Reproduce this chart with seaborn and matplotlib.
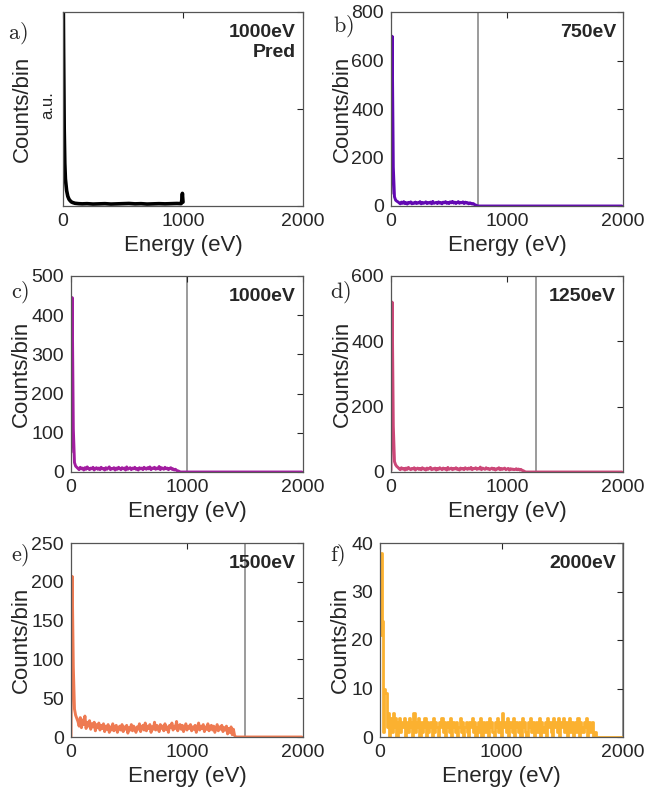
import numpy as np
import matplotlib
matplotlib.use("Agg")
import matplotlib.pyplot as plt
import seaborn as sns

sns.set_style("white")
plt.rcParams['font.family'] = ['Liberation Sans', 'DejaVu Sans']
plt.rcParams['mathtext.fontset'] = 'cm'

# energy bins (10 eV) for the measured spectra
bin_centres = np.arange(0, 2000, 10)

# panel a: predicted spectrum (arbitrary units)
pred_energy = [0, 5, 10, 15, 20, 30, 40, 50, 60, 70, 80, 100, 130, 160, 200, 250, 300,
               350, 400, 450, 500, 550, 600, 650, 700, 750, 800, 850, 900, 950, 985,
               990, 995, 1000]
pred_counts = [1.3, 0.8, 0.4, 0.22, 0.14, 0.08, 0.05, 0.035, 0.027, 0.021, 0.018, 0.014,
               0.012, 0.011, 0.012, 0.010, 0.011, 0.012, 0.010, 0.011, 0.012, 0.013, 0.011,
               0.012, 0.010, 0.011, 0.012, 0.011, 0.012, 0.013, 0.012, 0.03, 0.065, 0.02]

counts_750 = [50, 700, 160, 38, 24, 20, 17,
              13, 9, 16, 11, 18, 10, 14, 8, 15, 12, 17, 9, 13, 11, 16, 10, 14, 12, 18, 9,
              15, 11, 13, 17, 10, 14, 12, 16, 9, 19, 11, 13, 15, 10, 17, 12, 14, 9, 16, 13,
              18, 11, 15, 10, 17, 13, 19, 12, 16, 10, 14, 18, 11, 15, 13, 17, 10, 16, 12, 14,
              9, 13, 11, 8, 10, 6, 4, 2]

counts_1000 = [50, 445, 110, 24, 15, 12,
               9, 6, 12, 8, 10, 5, 11, 7, 13, 9, 6, 10, 8, 12, 5, 9, 11, 7, 10, 6,
               12, 8, 9, 5, 11, 7, 10, 13, 6, 9, 8, 11, 5, 10, 7, 12, 9, 6, 11, 8,
               10, 5, 13, 7, 9, 11, 6, 10, 8, 12, 7, 9, 5, 11, 8, 10, 6, 12, 9, 7,
               11, 8, 13, 6, 10, 9, 12, 7, 10, 8, 14, 6, 11, 9, 7, 12, 8, 10, 6, 9,
               11, 7, 8, 5, 7, 4, 3, 2]

counts_1250 = [5, 520, 140, 32, 22, 17, 14,
               10, 7, 13, 9, 11, 6, 12, 8, 14, 10, 7, 11, 9, 13, 6, 10, 12, 8, 11, 7,
               13, 9, 10, 6, 12, 8, 11, 14, 7, 10, 9, 12, 6, 11, 8, 13, 10, 7, 12, 9,
               11, 6, 14, 8, 10, 12, 7, 11, 9, 13, 8, 10, 6, 12, 9, 11, 7, 13, 10, 8,
               12, 9, 14, 7, 11, 10, 13, 8, 11, 9, 15, 7, 12, 10, 8, 13, 9, 11, 7, 10,
               12, 8, 11, 6, 10, 9, 13, 7, 11, 8, 10, 12, 7, 9, 11, 6, 10, 8, 9, 7,
               8, 10, 7, 9, 6, 8, 5, 4, 2]

counts_1500 = [0, 207, 90, 36, 28, 24,
               20, 14, 25, 12, 22, 16, 27, 11, 19, 14,
               21, 10, 17, 13, 19, 8, 16, 12, 18, 9, 15, 11, 17, 7, 14, 10, 16, 6, 13, 9,
               17, 8, 12, 15, 6, 11, 14, 9, 16, 7, 13, 10, 15, 5, 12, 9, 16, 8, 14, 11,
               6, 13, 10, 17, 7, 12, 15, 9, 18, 8, 14, 11, 16, 6, 13, 10, 19, 9, 15, 12,
               7, 16, 11, 14, 8, 17, 10, 13, 6, 15, 12, 18, 9, 14, 11, 20, 8, 13, 16, 10,
               15, 7, 12, 17, 9, 14, 11, 16, 8, 13, 10, 15, 6, 12, 18, 9, 14, 11, 16, 7,
               13, 10, 17, 8, 12, 15, 9, 14, 6, 11, 16, 8, 13, 10, 15, 7, 12, 9, 14, 4,
               11, 6, 13, 3, 10, 2]

counts_2000 = [21, 38, 24, 1, 10, 9, 2, 5, 0, 4, 1, 5, 2, 4, 0, 3, 4, 1, 3, 2,
               4, 0, 3, 1, 4, 2, 3, 0, 5, 1, 3, 2, 4, 0, 3, 1, 2, 4, 0, 3,
               1, 2, 3, 0, 4, 1, 3, 2, 0, 3, 2, 4, 1, 3, 0, 2, 3, 1, 4, 0,
               3, 2, 1, 3, 0, 2, 4, 1, 3, 0, 2, 3, 1, 0, 3, 2, 4, 1, 3, 0,
               2, 3, 1, 4, 0, 3, 2, 1, 3, 0, 4, 2, 3, 1, 0, 3, 2, 4, 1, 3,
               0, 5, 2, 3, 1, 4, 0, 3, 2, 1, 4, 0, 3, 2, 1, 3, 0, 4, 2, 3,
               1, 0, 3, 2, 4, 1, 3, 0, 2, 3, 1, 4, 0, 3, 2, 1, 3, 0, 4, 2,
               3, 1, 0, 4, 2, 3, 1, 4, 0, 3, 2, 4, 1, 3, 0, 2, 4, 1, 3, 0,
               2, 3, 1, 4, 0, 3, 2, 1, 3, 2, 4, 0, 3, 1, 2, 3, 0, 1, 0, 0]

beam_energies = [750, 1000, 1250, 1500, 2000]
spectra = [counts_750, counts_1000, counts_1250, counts_1500, counts_2000]
colours = ['#6208b2', '#a21da0', '#cc4778', '#ee7a52', '#fbb130']
y_limits = [800, 500, 600, 250, 40]
y_ticks = [[0, 200, 400, 600, 800], [0, 100, 200, 300, 400, 500], [0, 200, 400, 600],
           [0, 50, 100, 150, 200, 250], [0, 10, 20, 30, 40]]
panel_names = ['a)', 'b)', 'c)', 'd)', 'e)', 'f)']

W, H = 645, 791
# axes boxes in pixels: left, right, top, bottom
boxes = [(63, 303, 12, 206), (391, 623, 12, 206),
         (71, 303, 276, 472), (391, 623, 276, 472),
         (71, 303, 543, 737), (380, 623, 543, 737)]
ylab_x = [-0.125, -0.165, -0.168, -0.164, -0.168, -0.12]
label_pos = [(18, 33), (343, 26), (20, 292), (340, 292), (20, 555), (338, 555)]

fig = plt.figure(figsize=(W / 100, H / 100), dpi=100)
axes = []
for (l, r, t, b) in boxes:
    axes.append(fig.add_axes([l / W, 1 - b / H, (r - l) / W, (b - t) / H]))


def style_axis(ax):
    ax.set_xlim(0, 2000)
    ax.set_xticks([0, 1000, 2000])
    ax.tick_params(direction='in', length=4, width=0.8, top=True, right=True,
                   labelsize=14, colors='#262626', pad=5)
    for s in ax.spines.values():
        s.set_color('#555555')
        s.set_linewidth(0.9)
    ax.set_xlabel('Energy (eV)', fontsize=16, color='#262626')
    ax.xaxis.set_label_coords(0.5, -0.15)


# panel a
ax = axes[0]
sns.lineplot(x=pred_energy, y=pred_counts, ax=ax, color='black', linewidth=2.6,
             estimator=None, sort=False)
style_axis(ax)
ax.set_ylim(0, 1)
ax.set_yticks([0, 0.5, 1])
ax.set_yticklabels([])
ax.set_ylabel('Counts/bin', fontsize=16, color='#262626')
ax.yaxis.set_label_coords(ylab_x[0], 0.5)
ax.text(0.97, 0.94, '1000eV\nPred', transform=ax.transAxes, ha='right', va='top',
        fontsize=14, fontweight='bold', linespacing=1.25)
fig.text(48 / W, 1 - 105 / H, 'a.u.', rotation=90, ha='center', va='center',
         fontsize=12, color='#262626')

for i, (e0, counts, c) in enumerate(zip(beam_energies, spectra, colours)):
    ax = axes[i + 1]
    y = np.array(counts + [0] * (len(bin_centres) - len(counts)))
    ax.axvline(e0, color='#808080', linewidth=1.1, zorder=0)
    if e0 == 2000:
        kw = dict(drawstyle='steps-mid', linewidth=2.0)
    else:
        kw = dict(linewidth=2.1)
    sns.lineplot(x=bin_centres, y=y, ax=ax, color=c, estimator=None, sort=False, **kw)
    style_axis(ax)
    ax.set_ylim(0, y_limits[i])
    ax.set_yticks(y_ticks[i])
    ax.set_ylabel('Counts/bin', fontsize=16, color='#262626')
    ax.yaxis.set_label_coords(ylab_x[i + 1], 0.5)
    ax.text(0.97, 0.94, f'{e0}eV', transform=ax.transAxes, ha='right', va='top',
            fontsize=14, fontweight='bold')

for name, (px, py) in zip(panel_names, label_pos):
    fig.text(px / W, 1 - py / H, r'$\mathrm{' + name + '}$', ha='center', va='center',
             fontsize=16)

fig.savefig('out.png', dpi=100)
